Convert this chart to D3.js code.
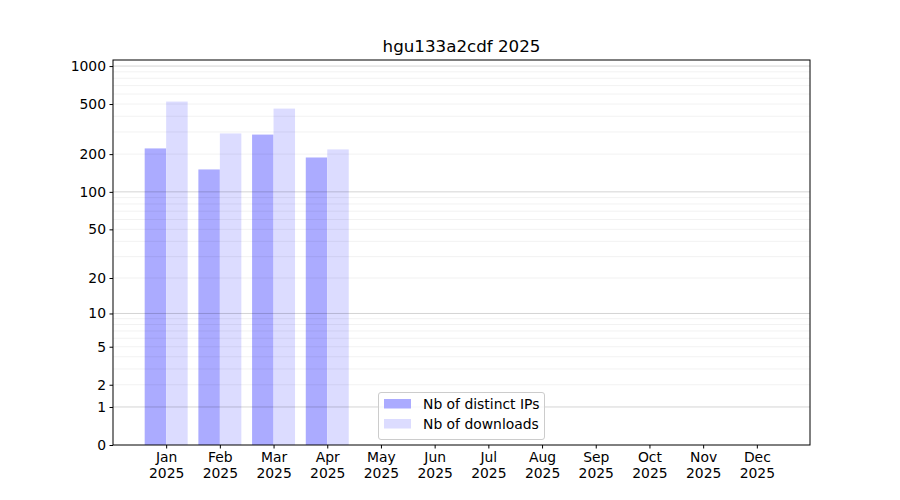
<!DOCTYPE html>
<html><head><meta charset="utf-8">
<script src="https://cdn.jsdelivr.net/npm/d3@7"></script>
<style>body{margin:0;background:#fff;} text{font-family:"DejaVu Sans",sans-serif;}</style>
</head><body>
<svg id="c" width="900" height="500"></svg>
<script>
const months = ["Jan","Feb","Mar","Apr","May","Jun","Jul","Aug","Sep","Oct","Nov","Dec"];
const yearLabel = "2025";
const distinctIPs = [222, 151, 286, 188, 0, 0, 0, 0, 0, 0, 0, 0];
const downloads = [523, 292, 460, 218, 0, 0, 0, 0, 0, 0, 0, 0];
const yTicks = [0, 1, 2, 5, 10, 20, 50, 100, 200, 500, 1000];
const majorGrid = [1, 10, 100, 1000];
const minorGrid = [2,3,4,5,6,7,8,9,20,30,40,50,60,70,80,90,200,300,400,500,600,700,800,900];
const title = "hgu133a2cdf 2025";
const seriesNames = ["Nb of distinct IPs", "Nb of downloads"];

const svg = d3.select("#c");
const L = 113, R = 810, T = 60, B = 445;
const x = d3.scaleLinear().domain([-0.99, 11.99]).range([L, R]);
const tf = v => Math.log10(1 + v);
const yl = d3.scaleLinear().domain([0, tf(1117)]).range([B, T]);
const y = v => yl(tf(v));

// bars
const bw = 0.4;
const g = svg.append("g");
g.selectAll("rect.ip").data(distinctIPs).enter().append("rect")
  .attr("x", (d,i) => x(i - bw)).attr("width", x(bw) - x(0))
  .attr("y", d => y(d)).attr("height", d => B - y(d))
  .attr("fill", "#ababff");
g.selectAll("rect.dl").data(downloads).enter().append("rect")
  .attr("x", (d,i) => x(i)).attr("width", x(bw) - x(0))
  .attr("y", d => y(d)).attr("height", d => B - y(d))
  .attr("fill", "#dcdcff");

// grid
svg.append("g").selectAll("line").data(minorGrid).enter().append("line")
  .attr("x1", L).attr("x2", R).attr("y1", d => y(d)).attr("y2", d => y(d))
  .attr("stroke", "#000").attr("stroke-opacity", 0.07).attr("stroke-width", 0.8);
svg.append("g").selectAll("line").data(majorGrid).enter().append("line")
  .attr("x1", L).attr("x2", R).attr("y1", d => y(d)).attr("y2", d => y(d))
  .attr("stroke", "#000").attr("stroke-opacity", 0.22).attr("stroke-width", 0.8);

// axes
const yAxis = d3.axisLeft(yl).tickValues(yTicks.map(tf)).tickFormat((d,i) => yTicks[i]).tickSizeOuter(0).tickSize(3.5).tickPadding(3.5);
const ya = svg.append("g").attr("transform", `translate(${L},0)`).call(yAxis);
ya.selectAll("text").attr("font-size", "13.9px").attr("fill", "#000");
ya.select(".domain").remove();

const xAxis = d3.axisBottom(x).tickValues(d3.range(12)).tickFormat(i => months[i]).tickSizeOuter(0).tickSize(3.5).tickPadding(3.5);
const xa = svg.append("g").attr("transform", `translate(0,${B})`).call(xAxis);
xa.select(".domain").remove();
xa.selectAll("text").attr("font-size", "13.9px").attr("fill", "#000");
xa.selectAll(".tick").append("text").attr("y", 23).attr("dy", "0.71em")
  .attr("font-size", "13.9px").attr("fill", "#000").text(yearLabel);

svg.append("rect").attr("x", L).attr("y", T).attr("width", R - L).attr("height", B - T)
  .attr("fill", "none").attr("stroke", "#000").attr("stroke-width", 1);

svg.append("text").attr("x", (L + R) / 2).attr("y", T - 8).attr("text-anchor", "middle")
  .attr("font-size", "16.7px").text(title);

// legend
const lg = svg.append("g").attr("transform", "translate(378,392)");
lg.append("rect").attr("x", 0.5).attr("y", 0.5).attr("width", 166).attr("height", 47).attr("rx", 2.5)
  .attr("fill", "#fff").attr("fill-opacity", 0.8).attr("stroke", "#ccc");
const colors = ["#ababff", "#dcdcff"];
seriesNames.forEach((n, i) => {
  lg.append("rect").attr("x", 6).attr("y", 7 + i * 20).attr("width", 27).attr("height", 9.5).attr("fill", colors[i]);
  lg.append("text").attr("x", 45).attr("y", 16.5 + i * 20).attr("font-size", "13.9px").text(n);
});
</script>
</body></html>
